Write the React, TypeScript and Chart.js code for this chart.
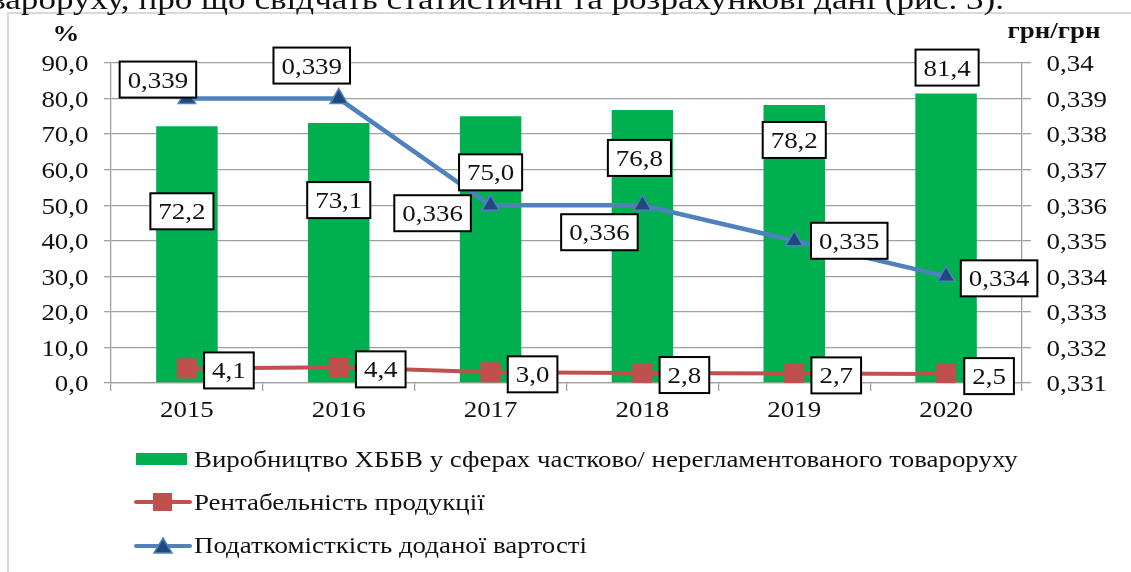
import React, { useEffect, useRef } from "react";
import { Chart, registerables } from "chart.js";

Chart.register(...registerables);

// ---- data ----
const categories = ["2015", "2016", "2017", "2018", "2019", "2020"];
const productionShare = [72.2, 73.1, 75.0, 76.8, 78.2, 81.4];
const profitability = [4.1, 4.4, 3.0, 2.8, 2.7, 2.5];
const taxIntensity = [0.339, 0.339, 0.336, 0.336, 0.335, 0.334];
const seriesNames = [
  "Виробництво ХББВ у сферах частково/ нерегламентованого товароруху",
  "Рентабельність продукції",
  "Податкомісткість доданої вартості",
];
const leftUnit = "%";
const rightUnit = "грн/грн";
const headerText = "товароруху, про що свідчать статистичні та розрахункові дані (рис. 3).";

// ---- label placement (pixel offsets from each mark) ----
const barLabelOffsets = [[-5, 85], [0, 77], [0, 56], [-3, 48], [0, 35], [1, -26]];
const redLabelOffsets = [[42, 2], [42, 2], [42, 2], [42, 2], [42, 2], [43, 2]];
const blueLabelOffsets = [[-29, -19], [-27, -33], [-58, 8], [-43, 27], [55, 0], [53, 2]];

const GREEN = "#00b050";
const RED = "#c0504d";
const BLUE = "#4f81bd";
const NAVY = "#1f497d";
const GRID = "#a0a0a0";
const SX = 1.17;
const FONT = '23px "Liberation Serif"';
const BOLD = 'bold 23px "Liberation Serif"';

const fmt1 = (v: number) => v.toFixed(1).replace(".", ",");
const fmt3 = (v: number) => String(parseFloat(v.toFixed(3))).replace(".", ",");

function txt(ctx: CanvasRenderingContext2D, s: string, x: number, y: number, align: CanvasTextAlign, font: string) {
  ctx.save();
  ctx.font = font;
  ctx.fillStyle = "#111";
  ctx.textBaseline = "alphabetic";
  ctx.textAlign = align;
  ctx.translate(x, y);
  ctx.scale(SX, 1);
  ctx.fillText(s, 0, 0);
  ctx.restore();
}

function box(ctx: CanvasRenderingContext2D, s: string, cx: number, cy: number) {
  ctx.save();
  ctx.font = FONT;
  const w = ctx.measureText(s).width * SX + 16;
  const h = 36;
  ctx.fillStyle = "#fff";
  ctx.fillRect(cx - w / 2, cy - h / 2, w, h);
  ctx.lineWidth = 2;
  ctx.strokeStyle = "#000";
  ctx.strokeRect(cx - w / 2, cy - h / 2, w, h);
  ctx.restore();
  txt(ctx, s, cx, cy + 8, "center", FONT);
}

const decorPlugin = {
  id: "decor",
  beforeDraw(chart: any) {
    const ctx = chart.ctx as CanvasRenderingContext2D;
    ctx.save();
    ctx.fillStyle = "#fff";
    ctx.fillRect(0, 0, chart.width, chart.height);
    ctx.strokeStyle = "#d9d9d9";
    ctx.lineWidth = 2;
    ctx.beginPath();
    ctx.moveTo(8, chart.height);
    ctx.lineTo(8, 13);
    ctx.lineTo(chart.width, 13);
    ctx.stroke();
    ctx.restore();
    txt(ctx, headerText, 1004, 9, "right", '30px "Liberation Serif"');
  },
  afterDatasetsDraw(chart: any) {
    const ctx = chart.ctx as CanvasRenderingContext2D;
    const bars = chart.getDatasetMeta(0).data;
    const reds = chart.getDatasetMeta(1).data;
    const blues = chart.getDatasetMeta(2).data;
    bars.forEach((el: any, i: number) => {
      box(ctx, fmt1(productionShare[i]), el.x + barLabelOffsets[i][0], el.y + barLabelOffsets[i][1]);
    });
    reds.forEach((el: any, i: number) => {
      box(ctx, fmt1(profitability[i]), el.x + redLabelOffsets[i][0], el.y + redLabelOffsets[i][1]);
    });
    blues.forEach((el: any, i: number) => {
      box(ctx, fmt3(taxIntensity[i]), el.x + blueLabelOffsets[i][0], el.y + blueLabelOffsets[i][1]);
    });
  },
  afterDraw(chart: any) {
    const ctx = chart.ctx as CanvasRenderingContext2D;
    const y = chart.scales.y;
    const y1 = chart.scales.y1;
    const x = chart.scales.x;
    y.ticks.forEach((t: any) => {
      txt(ctx, fmt1(t.value), y.right - 22.5, y.getPixelForValue(t.value) + 8.3, "right", FONT);
    });
    y1.ticks.forEach((t: any) => {
      txt(ctx, fmt3(t.value), y1.left + 24.5, y1.getPixelForValue(t.value) + 8.3, "left", FONT);
    });
    categories.forEach((c, i) => {
      txt(ctx, c, x.getPixelForValue(i), x.top + 34, "center", FONT);
    });
    txt(ctx, leftUnit, 66, 41, "center", BOLD);
    txt(ctx, rightUnit, 1054, 38, "center", BOLD);

    // legend
    const lx = 136;
    const tx = 194;
    ctx.save();
    ctx.fillStyle = GREEN;
    ctx.fillRect(lx, 453, 51, 12);
    ctx.lineCap = "round";
    ctx.lineWidth = 4;
    ctx.strokeStyle = RED;
    ctx.beginPath();
    ctx.moveTo(lx, 502);
    ctx.lineTo(lx + 54, 502);
    ctx.stroke();
    ctx.fillStyle = RED;
    ctx.fillRect(lx + 17, 493, 19, 18);
    ctx.strokeStyle = BLUE;
    ctx.beginPath();
    ctx.moveTo(lx, 546);
    ctx.lineTo(lx + 54, 546);
    ctx.stroke();
    ctx.fillStyle = NAVY;
    ctx.strokeStyle = BLUE;
    ctx.lineWidth = 1.5;
    ctx.beginPath();
    ctx.moveTo(lx + 27, 538);
    ctx.lineTo(lx + 36, 553);
    ctx.lineTo(lx + 18, 553);
    ctx.closePath();
    ctx.fill();
    ctx.stroke();
    ctx.restore();
    txt(ctx, seriesNames[0], tx, 467, "left", FONT);
    txt(ctx, seriesNames[1], tx, 510, "left", FONT);
    txt(ctx, seriesNames[2], tx, 553, "left", FONT);
  },
};

export default function App() {
  const ref = useRef<HTMLCanvasElement | null>(null);
  useEffect(() => {
    if (!ref.current) return;
    const chart = new Chart(ref.current, {
      type: "bar",
      data: {
        labels: categories,
        datasets: [
          {
            type: "bar",
            label: seriesNames[0],
            data: productionShare,
            yAxisID: "y",
            backgroundColor: GREEN,
            barPercentage: 0.405,
            categoryPercentage: 1,
            order: 3,
          } as any,
          {
            type: "line",
            label: seriesNames[1],
            data: profitability,
            yAxisID: "y",
            borderColor: RED,
            borderWidth: 4,
            pointStyle: "rect",
            pointRadius: 13.5,
            pointBackgroundColor: RED,
            pointBorderColor: RED,
            pointBorderWidth: 1,
            tension: 0,
            order: 2,
          } as any,
          {
            type: "line",
            label: seriesNames[2],
            data: taxIntensity,
            yAxisID: "y1",
            borderColor: BLUE,
            borderWidth: 4.5,
            pointStyle: "triangle",
            pointRadius: 10,
            pointBackgroundColor: NAVY,
            pointBorderColor: BLUE,
            pointBorderWidth: 1.5,
            tension: 0,
            order: 1,
          } as any,
        ],
      },
      options: {
        animation: false,
        responsive: false,
        events: [],
        layout: { padding: { top: 63, left: 0, right: 0, bottom: 0 } },
        plugins: { legend: { display: false }, tooltip: { enabled: false } },
        scales: {
          x: {
            type: "category",
            offset: true,
            grid: { offset: true, drawOnChartArea: false, drawTicks: true, tickLength: 8, color: GRID, lineWidth: 1.3 },
            border: { display: true, color: GRID, width: 1.3 },
            ticks: { display: false },
            afterFit: (s: any) => { s.height = 189; },
          },
          y: {
            position: "left",
            min: 0,
            max: 90,
            ticks: { stepSize: 10, display: false },
            grid: { color: GRID, lineWidth: 1.3, drawTicks: true, tickLength: 7 },
            border: { display: true, color: GRID, width: 1.3 },
            afterFit: (s: any) => { s.width = 111; },
          },
          y1: {
            position: "right",
            min: 0.331,
            max: 0.34,
            ticks: { stepSize: 0.001, display: false },
            grid: { drawOnChartArea: false, color: GRID, lineWidth: 1.3, drawTicks: true, tickLength: 9 },
            border: { display: true, color: GRID, width: 1.3 },
            afterFit: (s: any) => { s.width = 109; },
          },
        },
      } as any,
      plugins: [decorPlugin],
    });
    return () => chart.destroy();
  }, []);

  return (
    <div style={{ position: "absolute", left: 0, top: 0, width: 1131, height: 572, overflow: "hidden", background: "#fff" }}>
      <canvas ref={ref} width={1131} height={572} style={{ display: "block" }} />
    </div>
  );
}
